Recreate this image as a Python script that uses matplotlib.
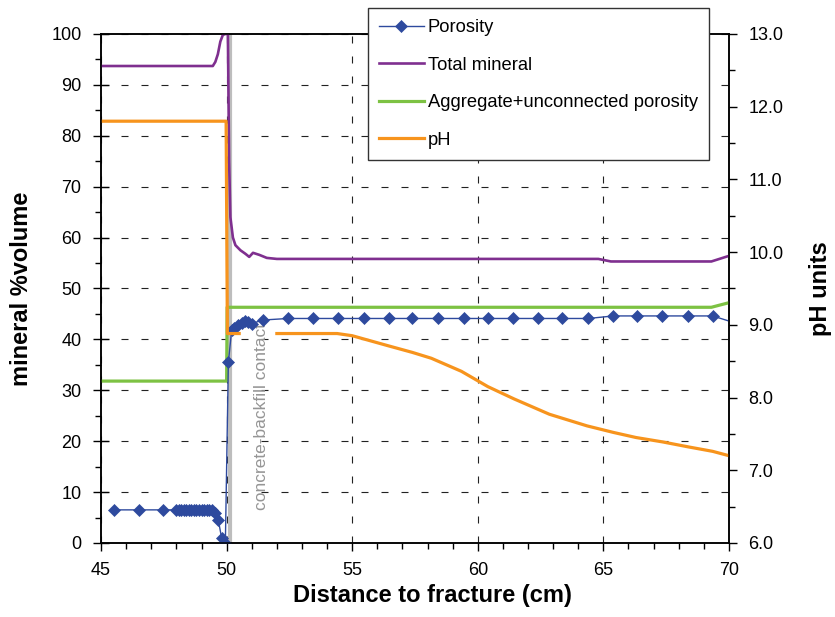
import numpy as np
import matplotlib
matplotlib.use('Agg')
import matplotlib.pyplot as plt
from matplotlib.ticker import MultipleLocator, FormatStrFormatter

plt.rcParams['font.family'] = ['Liberation Sans', 'DejaVu Sans']

# porosity (left axis, %)
por_x = [45.5, 46.5, 47.45, 48.0, 48.1, 48.2, 48.3, 48.4, 48.5, 48.6, 48.7, 48.8,
         48.9, 49.0, 49.1, 49.2, 49.3, 49.4, 49.55, 49.67, 49.8, 49.95,
         50.07, 50.2, 50.3, 50.45, 50.6, 50.75, 50.85, 51.0, 51.45,
         52.45, 53.45, 54.45, 55.45, 56.45, 57.4, 58.4, 59.45, 60.4, 61.4,
         62.4, 63.35, 64.4, 65.4, 66.35, 67.35, 68.35, 69.35, 70.0]
por_y = [6.5, 6.5, 6.5, 6.5, 6.5, 6.5, 6.5, 6.5, 6.5, 6.5, 6.5, 6.5,
         6.5, 6.5, 6.5, 6.5, 6.5, 6.4, 5.8, 4.5, 1.0, 0.0,
         35.5, 41.8, 42.3, 42.8, 43.2, 43.6, 43.4, 43.1, 43.8,
         44.1, 44.1, 44.1, 44.1, 44.1, 44.1, 44.1, 44.1, 44.1, 44.1,
         44.1, 44.1, 44.1, 44.6, 44.6, 44.6, 44.6, 44.6, 43.6]

# total mineral (left axis)
tm_x = [45.0, 49.45, 49.55, 49.65, 49.75, 49.85, 49.95, 50.05, 50.1, 50.15, 50.25,
        50.35, 50.55, 50.75, 50.9, 51.05, 51.3, 51.6, 52.0, 64.8, 65.3, 69.3, 70.0]
tm_y = [93.7, 93.7, 94.5, 96.0, 98.5, 99.8, 100.0, 100.0, 75.0, 64.0, 60.0,
        58.5, 57.5, 56.8, 56.2, 57.0, 56.6, 56.0, 55.8, 55.8, 55.3, 55.3, 56.4]

# aggregate + unconnected porosity (left axis)
agg_x = [45.0, 50.0, 50.02, 69.3, 70.0]
agg_y = [31.8, 31.8, 46.3, 46.3, 47.2]

# pH (right axis)
ph_x = [45.0, 49.98, 50.03, 50.5, np.nan, 52.0, 54.4, 55.0, 56.45, 57.4, 58.15,
        59.35, 60.4, 61.45, 62.85, 64.35, 65.4, 66.3, 67.35, 68.4, 69.35, 70.0]
ph_y = [11.8, 11.8, 8.88, 8.88, np.nan, 8.88, 8.88, 8.85, 8.71, 8.62, 8.54,
        8.36, 8.15, 7.98, 7.77, 7.61, 7.52, 7.45, 7.39, 7.32, 7.26, 7.2]

contact_x = 50.14

fig = plt.figure(figsize=(8.35, 6.17), dpi=100)
ax = fig.add_axes([0.121, 0.120, 0.752, 0.825])
ax2 = ax.twinx()

blue = '#2E4A9E'
purple = '#7F2F8F'
green = '#7DC243'
orange = '#F7941D'

# contact line + label
ax.axvline(contact_x, color='#BDBDBD', lw=3, zorder=1.5)
ax.text(51.38, 6.5, 'concrete-backfill contact', rotation=90, ha='center', va='bottom',
        color='#959595', fontsize=12.5)

l1, = ax.plot(por_x, por_y, color=blue, lw=1.0, marker='D', ms=6.5, mew=0.5,
              markevery=list(range(len(por_x) - 1)), zorder=4)
l2, = ax.plot(tm_x, tm_y, color=purple, lw=1.9, zorder=3)
l3, = ax.plot(agg_x, agg_y, color=green, lw=2.3, zorder=3)
l4, = ax2.plot(ph_x, ph_y, color=orange, lw=2.3)

ax.set_xlim(45, 70)
ax.set_ylim(0, 100)
ax2.set_ylim(6, 13)

ax.xaxis.set_major_locator(MultipleLocator(5))
ax.xaxis.set_minor_locator(MultipleLocator(1))
ax.yaxis.set_major_locator(MultipleLocator(10))
ax.yaxis.set_minor_locator(MultipleLocator(5))
ax2.yaxis.set_major_locator(MultipleLocator(1))
ax2.yaxis.set_minor_locator(MultipleLocator(0.5))
ax2.yaxis.set_major_formatter(FormatStrFormatter('%.1f'))

for a in (ax, ax2):
    a.tick_params(which='major', direction='out', length=6, width=1, labelsize=13, pad=8)
    a.tick_params(which='minor', direction='out', length=4.5, width=1)
    for s in a.spines.values():
        s.set_linewidth(1.1)
# left major ticks cross the spine
ax.tick_params(axis='y', which='major', direction='inout', length=12, pad=8)

ax.grid(True, which='major', color='#222222', lw=0.8, linestyle=(0, (6.3, 11.7)))
ax.set_axisbelow(True)

ax.set_xlabel('Distance to fracture (cm)', fontsize=17, fontweight='bold')
ax.set_ylabel('mineral %volume', fontsize=17, fontweight='bold')
ax2.set_ylabel('pH units', fontsize=17, fontweight='bold')
ax.xaxis.set_label_coords(0.528, -0.081)
ax.yaxis.set_label_coords(-0.108, 0.5)
ax2.yaxis.set_label_coords(1.128, 0.5)

leg = fig.legend([l1, l2, l3, l4],
                 ['Porosity', 'Total mineral', 'Aggregate+unconnected porosity', 'pH'],
                 loc='upper left', bbox_to_anchor=(0.4407, 0.987), fontsize=13.2,
                 fancybox=False, framealpha=1, edgecolor='#333333',
                 handlelength=2.45, handletextpad=0.22, labelspacing=1.12,
                 borderpad=0.6, borderaxespad=0)
leg.get_frame().set_linewidth(1.0)

fig.savefig('out.png', dpi=100)
